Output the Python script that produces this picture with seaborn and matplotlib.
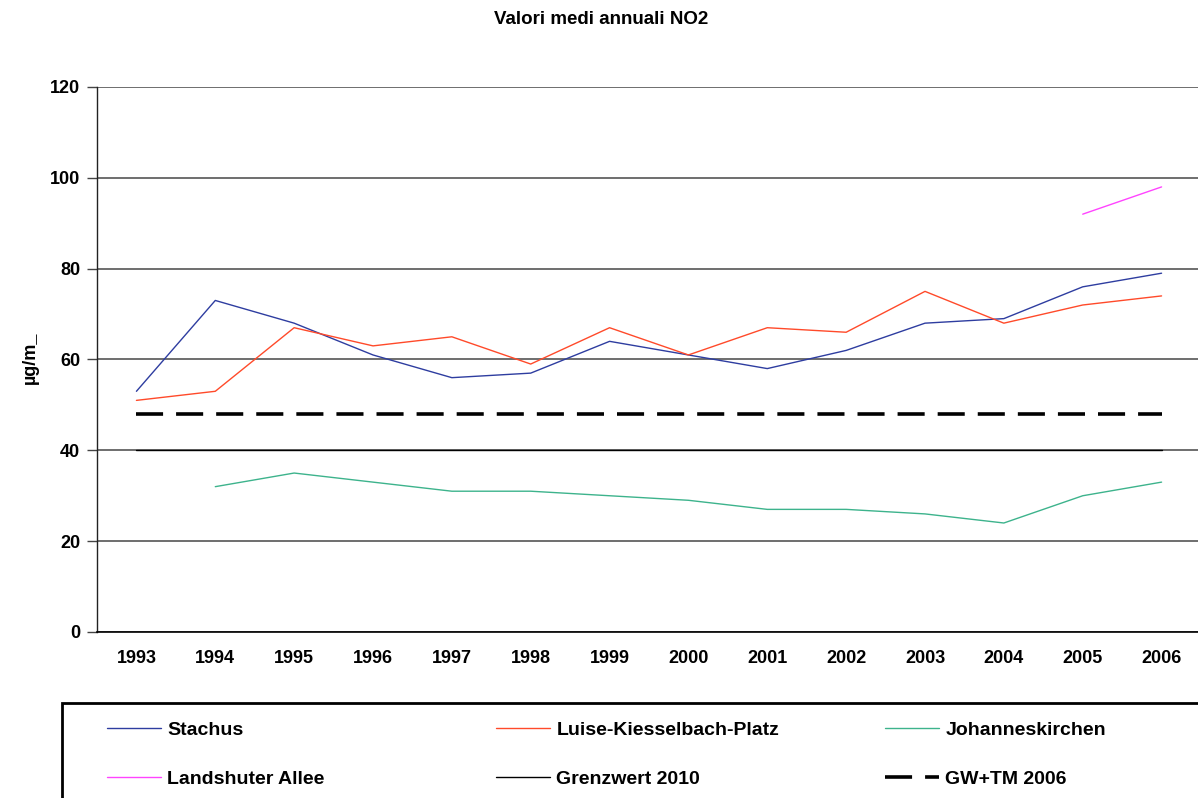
import numpy as np
import pandas as pd
import matplotlib
matplotlib.use("Agg")
import matplotlib.pyplot as plt
import seaborn as sns
from matplotlib.patches import Rectangle
from matplotlib.lines import Line2D
from matplotlib.ticker import FixedLocator

# ---- data ----
years = list(range(1993, 2007))
stachus = [53, 73, 68, 61, 56, 57, 64, 61, 58, 62, 68, 69, 76, 79]
luise = [51, 53, 67, 63, 65, 59, 67, 61, 67, 66, 75, 68, 72, 74]
johannes = [np.nan, 32, 35, 33, 31, 31, 30, 29, 27, 27, 26, 24, 30, 33]
landshuter = [np.nan] * 12 + [92, 98]
grenzwert = [40] * 14
gwtm = [48] * 14

names = ["Stachus", "Luise-Kiesselbach-Platz", "Johanneskirchen",
         "Landshuter Allee", "Grenzwert 2010", "GW+TM 2006"]
series = [stachus, luise, johannes, landshuter, grenzwert, gwtm]
colors = ["#2E3DA0", "#FF4A2A", "#3DB38C", "#FF44FF", "#000000", "#000000"]
widths = [1.0, 1.0, 1.0, 1.0, 1.0, 2.6]
dashes = [None, None, None, None, None, (7.5, 3.6)]

sns.set_theme(style="white")
plt.rcParams["font.family"] = ["Liberation Sans", "DejaVu Sans"]
plt.rcParams["font.weight"] = "bold"
plt.rcParams["text.color"] = "black"
plt.rcParams["xtick.color"] = "black"
plt.rcParams["ytick.color"] = "black"

W, H = 1198, 798
fig = plt.figure(figsize=(W / 100, H / 100), dpi=100)
ax = fig.add_axes([97 / W, 1 - 632 / H, (1201 - 97) / W, 545 / H])

handles = []
for name, vals, c, lw, d in zip(names, series, colors, widths, dashes):
    df = pd.DataFrame({"year": years, "val": vals}).dropna()
    sns.lineplot(data=df, x="year", y="val", ax=ax, color=c, linewidth=lw,
                 legend=False)
    ln = ax.get_lines()[-1]
    if d is not None:
        ln.set_dashes(d)
    h = Line2D([], [], color=c, linewidth=lw)
    if d is not None:
        h.set_dashes(d)
    handles.append(h)

ax.set_xlim(1992.5, 2006.5)
ax.set_ylim(0, 120)
ax.set_yticks(range(0, 121, 20))
ax.set_xticks(years)
ax.set_xticklabels([str(y) for y in years])
ax.xaxis.set_minor_locator(FixedLocator([y - 0.5 for y in years]))
ax.tick_params(axis="x", which="major", length=0, pad=13, labelsize=13)
ax.tick_params(axis="x", which="minor", length=5, width=1, color="#444", direction="out")
ax.tick_params(axis="y", which="major", length=7, width=1, color="#444",
               direction="out", pad=5, labelsize=13, left=True)
for lab in ax.get_xticklabels() + ax.get_yticklabels():
    lab.set_fontweight("bold")
    lab.set_color("black")

ax.yaxis.grid(True, color="#555555", linewidth=1.2)
ax.set_axisbelow(True)
for s in ["top", "right"]:
    ax.spines[s].set_visible(False)
ax.spines["left"].set_color("#222")
ax.spines["left"].set_linewidth(1.0)
ax.spines["bottom"].set_color("#000")
ax.spines["bottom"].set_linewidth(1.2)
ax.set_xlabel("")
ax.set_ylabel("")
ax.patch.set_alpha(0)

fig.text(601 / W, 1 - 20 / H, "Valori medi annuali NO2", ha="center", va="center",
         fontsize=13.5, fontweight="bold", color="black")
fig.text(30 / W, 1 - 358 / H, "µg/m_", ha="center", va="center", rotation=90,
         fontsize=13, fontweight="bold", color="black")

# legend frame
fig.add_artist(Rectangle((62 / W, -0.1), 1.2, 0.1 + (1 - 703 / H),
                         transform=fig.transFigure, fill=False,
                         edgecolor="black", linewidth=2, clip_on=False))

col_x = [107, 496, 885]
for i, x in enumerate(col_x):
    hs = [handles[i], handles[i + 3]]
    ls = [names[i], names[i + 3]]
    leg = fig.legend(hs, ls, loc="upper left", bbox_to_anchor=(x / W, 1 - 721 / H),
                     frameon=False, borderpad=0, borderaxespad=0,
                     handlelength=2.8, handletextpad=0.3, labelspacing=1.63,
                     prop={"size": 14, "weight": "bold"})
    for t in leg.get_texts():
        t.set_color("black")

fig.savefig("out.png", dpi=100)
